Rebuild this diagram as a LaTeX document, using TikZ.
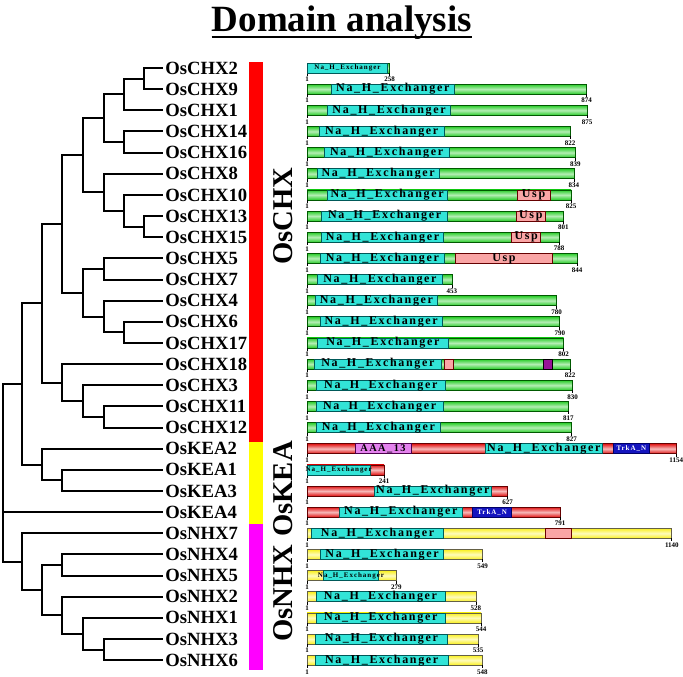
\documentclass[tikz,border=0pt]{standalone}
\usepackage{fontspec}
\setmainfont{Liberation Serif}
\newfontfamily\domfont[LetterSpace=14]{Liberation Serif}
\definecolor{barG}{RGB}{40,205,40}
\definecolor{barR}{RGB}{225,20,20}
\definecolor{barY}{RGB}{250,240,30}
\definecolor{domC}{RGB}{50,228,215}
\definecolor{domU}{RGB}{250,165,165}
\definecolor{domV}{RGB}{228,130,238}
\definecolor{domB}{RGB}{20,20,190}
\definecolor{domP}{RGB}{150,20,150}
\definecolor{grpR}{RGB}{255,0,0}
\definecolor{grpY}{RGB}{255,255,0}
\definecolor{grpM}{RGB}{255,0,255}
\begin{document}
\begin{tikzpicture}[x=0.75pt, y=-0.75pt,
	leaf/.style={anchor=west, inner sep=1.5, font=\fontsize{14}{14}\selectfont\bfseries},
	branch/.style={line width=1.5pt},
	group/.style={rotate=90, inner sep=0, font=\fontsize{21.5}{21.5}\selectfont\bfseries},
	gbar/.style={draw=green!35!black, line width=0.5, top color=barG, bottom color=barG, middle color=white!65!barG},
	rbar/.style={draw=red!40!black, line width=0.5, top color=barR, bottom color=barR, middle color=white!70!barR},
	ybar/.style={draw=yellow!30!black, line width=0.5, top color=barY, bottom color=barY, middle color=white!70!barY},
	nah/.style={draw=teal!70!black, line width=0.5, fill=domC},
	nahs/.style={nah},
	usp/.style={draw=red!40!black, line width=0.5, fill=domU},
	aaa/.style={draw=violet!60!black, line width=0.5, fill=domV},
	trk/.style={draw=blue!40!black, line width=0.5, fill=domB},
	pur/.style={draw=black, line width=0.5, fill=domP},
	nah lbl/.style={inner sep=0, font=\domfont\fontsize{9}{9}\selectfont\bfseries},
	nahs lbl/.style={inner sep=0, font=\domfont\fontsize{5.25}{5.25}\selectfont\bfseries},
	usp lbl/.style={nah lbl},
	aaa lbl/.style={inner sep=0, font=\domfont\fontsize{7.75}{7.75}\selectfont\bfseries},
	trk lbl/.style={inner sep=0, text=white, font=\domfont\fontsize{5.25}{5.25}\selectfont\bfseries},
	pur lbl/.style={inner sep=0},
	tick/.style={line width=0.5},
	num/.style={inner sep=0, font=\fontsize{5.25}{5.25}\selectfont\bfseries}]
	\useasboundingbox (0,0) rectangle (683,676);

	% title
	\node[inner sep=0, anchor=base, font=\fontsize{27.75}{28}\selectfont\bfseries] (title) at (342,31) {Domain analysis};
	\draw[line width=2.2pt] ([yshift=-4.5pt]title.base west) -- ([yshift=-4.5pt]title.base east);

	% leaves
	\foreach \n [count=\i from 0] in {CHX2,CHX9,CHX1,CHX14,CHX16,CHX8,CHX10,CHX13,CHX15,CHX5,CHX7,CHX4,CHX6,CHX17,CHX18,CHX3,CHX11,CHX12,KEA2,KEA1,KEA3,KEA4,NHX7,NHX4,NHX5,NHX2,NHX1,NHX3,NHX6}
		\node[leaf] (\n) at (163,{68+21.15*\i}) {Os\n};

	% inner nodes of the tree
	\foreach \t/\x/\r in {t29/144/0.5, t291/124/1.25, t1416/124/3.5, tA/104/2.375,
		t1315/144/7.5, t10/124/6.75, t8/104/5.875, tB/83/4.125,
		t57/104/9.5, t617/124/12.5, t4/104/11.75, tC/83/10.625, tD/62/7.375,
		t1112/104/16.5, t3/83/15.75, t18/62/14.875, tCHX/42/11.125,
		tK13/62/19.5, tKEA/42/18.75, tE/22/14.9375,
		tN36/104/27.5, tN1/83/26.75, tN2/62/25.875, tN45/62/23.5, tF/42/24.6875, tNHX/22/23.34375,
		root/3/19}
		\coordinate (\t) at (\x,{68+21.15*\r});

	\foreach \p/\c in {t29/CHX2, t29/CHX9, t291/t29, t291/CHX1, t1416/CHX14, t1416/CHX16, tA/t291, tA/t1416,
		t1315/CHX13, t1315/CHX15, t10/CHX10, t10/t1315, t8/CHX8, t8/t10, tB/tA, tB/t8,
		t57/CHX5, t57/CHX7, t617/CHX6, t617/CHX17, t4/CHX4, t4/t617, tC/t57, tC/t4, tD/tB, tD/tC,
		t1112/CHX11, t1112/CHX12, t3/CHX3, t3/t1112, t18/CHX18, t18/t3, tCHX/tD, tCHX/t18,
		tK13/KEA1, tK13/KEA3, tKEA/KEA2, tKEA/tK13, tE/tCHX, tE/tKEA,
		tN36/NHX3, tN36/NHX6, tN1/NHX1, tN1/tN36, tN2/NHX2, tN2/tN1, tN45/NHX4, tN45/NHX5,
		tF/tN45, tF/tN2, tNHX/NHX7, tNHX/tF, root/tE, root/KEA4, root/tNHX}
		\draw[branch] (\p) |- (\c.west);

	% group strip
	\fill[grpR] (249,62) rectangle (263,442);
	\fill[grpY] (249,442) rectangle (263,524);
	\fill[grpM] (249,524) rectangle (263,670);
	\node[group] (gCHX) at (283,216) {OsCHX};
	\node[group] (gKEA) at (283,489) {OsKEA};
	\node[group] (gNHX) at (283,593) {OsNHX};

	% protein bars
	\foreach \r/\len/\s in {0/258/gbar, 1/874/gbar, 2/875/gbar, 3/822/gbar, 4/839/gbar, 5/834/gbar,
		6/825/gbar, 7/801/gbar, 8/788/gbar, 9/844/gbar, 10/453/gbar, 11/780/gbar, 12/790/gbar,
		13/802/gbar, 14/822/gbar, 15/830/gbar, 16/817/gbar, 17/827/gbar,
		18/1154/rbar, 19/241/rbar, 20/627/rbar, 21/791/rbar,
		22/1140/ybar, 23/549/ybar, 24/279/ybar, 25/528/ybar, 26/544/ybar, 27/535/ybar, 28/548/ybar} {
		\pgfmathsetmacro\y{68+21.15*\r}
		\pgfmathsetmacro\e{307+0.32*\len}
		\draw[\s] (307,\y-5) rectangle (\e,\y+5);
		\draw[tick] (307,\y+5) -- (307,\y+8) (\e,\y+5) -- (\e,\y+8);
		\node[num] (s\r) at (307,\y+11.5) {1};
		\node[num] (e\r) at (\e,\y+11.5) {\len};
	}

	% domains
	\foreach \r/\a/\b/\s/\t [count=\k] in {0/1/252/nahs/Na\_H\_Exchanger, 1/77/459/nah/Na\_H\_Exchanger,
		2/64/449/nah/Na\_H\_Exchanger, 3/39/428/nah/Na\_H\_Exchanger, 4/53/445/nah/Na\_H\_Exchanger,
		5/32/413/nah/Na\_H\_Exchanger, 6/64/437/nah/Na\_H\_Exchanger, 6/657/759/usp/Usp,
		7/46/439/nah/Na\_H\_Exchanger, 7/653/746/usp/Usp, 8/46/426/nah/Na\_H\_Exchanger, 8/640/730/usp/Usp,
		9/43/428/nah/Na\_H\_Exchanger, 9/464/767/usp/Usp, 10/32/424/nah/Na\_H\_Exchanger,
		11/27/407/nah/Na\_H\_Exchanger, 12/41/423/nah/Na\_H\_Exchanger, 13/32/442/nah/Na\_H\_Exchanger,
		14/22/421/nah/Na\_H\_Exchanger, 14/428/457/usp/{}, 14/739/767/pur/{},
		15/28/433/nah/Na\_H\_Exchanger, 16/28/426/nah/Na\_H\_Exchanger, 17/28/418/nah/Na\_H\_Exchanger,
		18/150/325/aaa/AAA\_13, 18/556/924/nah/Na\_H\_Exchanger, 18/957/1070/trk/TrkA\_N,
		19/1/197/nahs/Na\_H\_Exchanger, 20/209/577/nah/Na\_H\_Exchanger,
		21/101/485/nah/Na\_H\_Exchanger, 21/517/640/trk/TrkA\_N,
		22/15/426/nah/Na\_H\_Exchanger, 22/744/827/usp/{},
		23/43/426/nah/Na\_H\_Exchanger, 24/51/224/nahs/Na\_H\_Exchanger, 25/28/431/nah/Na\_H\_Exchanger,
		26/28/433/nah/Na\_H\_Exchanger, 27/25/440/nah/Na\_H\_Exchanger, 28/25/442/nah/Na\_H\_Exchanger} {
		\pgfmathsetmacro\y{68+21.15*\r}
		\pgfmathsetmacro\xa{307+0.32*\a}
		\pgfmathsetmacro\xb{307+0.32*\b}
		\draw[\s] (\xa,\y-5) rectangle (\xb,\y+5);
		\node[\s\space lbl] (d\k) at ({(\xa+\xb)/2},\y) {\t};
	}
\end{tikzpicture}
\end{document}
